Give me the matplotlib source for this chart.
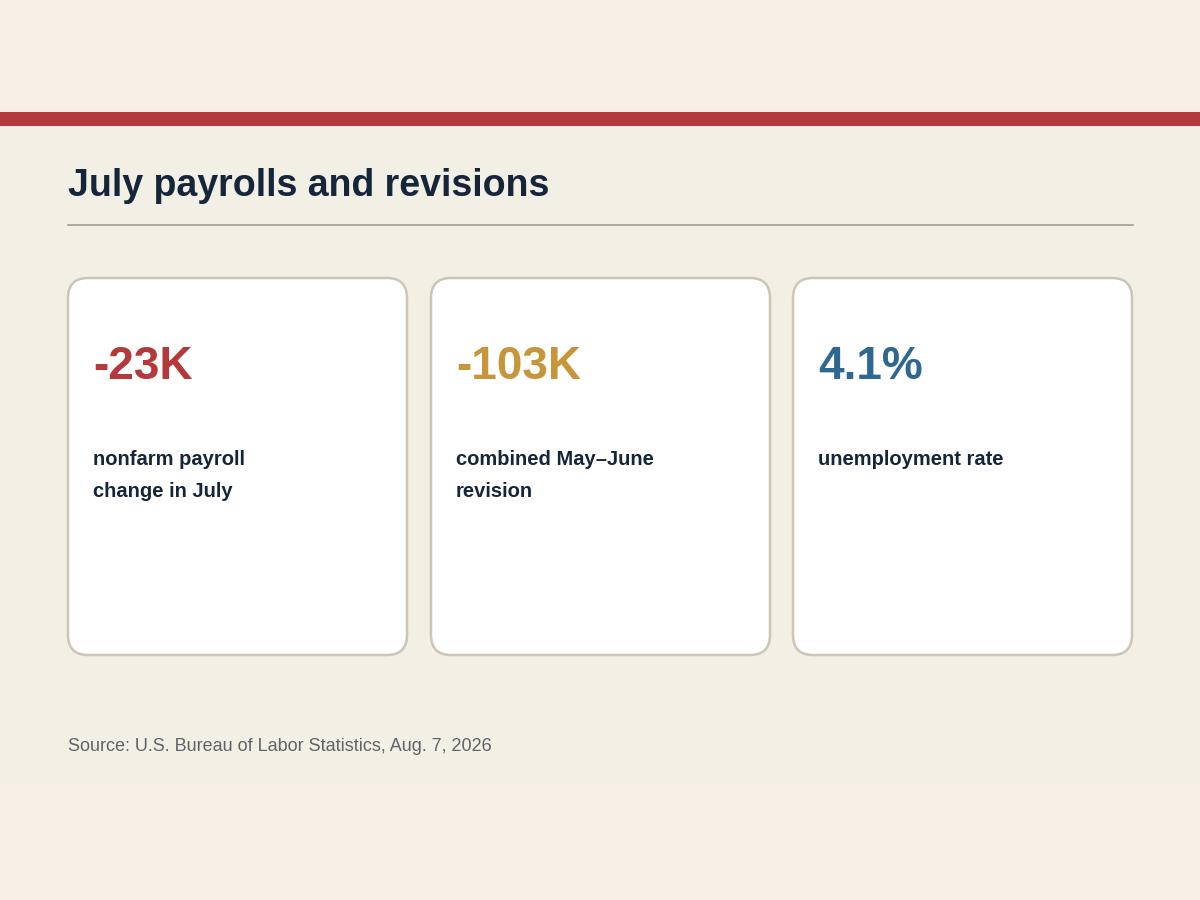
import matplotlib.pyplot as plt
from matplotlib.patches import FancyBboxPatch, Rectangle

FONT = "Liberation Sans"

# Card content
values = ["-23K", "-103K", "4.1%"]
labels = [["nonfarm payroll", "change in July"],
          ["combined May\u2013June", "revision"],
          ["unemployment rate"]]
value_colors = ["#b5393b", "#c8963a", "#2e6790"]

title = "July payrolls and revisions"
source = "Source: U.S. Bureau of Labor Statistics, Aug. 7, 2026"

W, H = 1200, 900
fig = plt.figure(figsize=(12, 9), dpi=100)
fig.patch.set_facecolor("#f5efe6")
ax = fig.add_axes([0, 0, 1, 1])
ax.set_xlim(0, W)
ax.set_ylim(H, 0)
ax.axis("off")

# panel background and red band
ax.add_patch(Rectangle((0, 112), W, 671, facecolor="#f2efe5", edgecolor="none"))
ax.add_patch(Rectangle((0, 112), W, 14, facecolor="#b3393c", edgecolor="none"))

# title and divider
ax.text(68, 196, title, family=FONT, fontsize=27, fontweight="bold",
        color="#15263a", ha="left", va="baseline")
ax.plot([68, 1133], [225, 225], color="#a09e92", lw=1.2)

# cards
card_x = [68, 431, 793]
card_w, card_top, card_h = 339, 278, 377
for i, x in enumerate(card_x):
    card = FancyBboxPatch((x + 20, card_top + 20), card_w - 40, card_h - 40,
                          boxstyle="round,pad=20", facecolor="white",
                          edgecolor="#cdc6b6", linewidth=1.8)
    ax.add_patch(card)
    ax.text(x + 25, 379, values[i], family=FONT, fontsize=33, fontweight="bold",
            color=value_colors[i], ha="left", va="baseline")
    for k, line in enumerate(labels[i]):
        ax.text(x + 25, 465 + 32 * k, line, family=FONT, fontsize=14.5,
                fontweight="bold", color="#15263a", ha="left", va="baseline")

ax.text(68, 751, source, family=FONT, fontsize=12.95, color="#5f6369",
        ha="left", va="baseline")

plt.savefig("out.png", dpi=100, facecolor=fig.get_facecolor())
